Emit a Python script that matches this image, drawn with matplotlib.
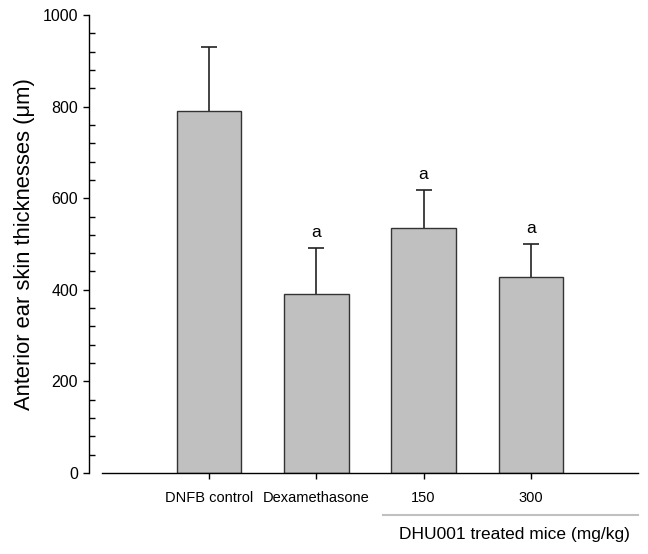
import numpy as np
import matplotlib
matplotlib.use("Agg")
import matplotlib.pyplot as plt
import matplotlib.transforms as mtransforms
from matplotlib.ticker import MultipleLocator

plt.rcParams["font.family"] = ["Liberation Sans", "DejaVu Sans"]

# ── data ─────────────────────────────────────────────────────────────────────
groups = ["DNFB control", "Dexamethasone", "150", "300"]
means = [790, 391, 536, 427]
sem = [141, 100, 82, 73]
sig_marks = ["", "a", "a", "a"]

fig = plt.figure(figsize=(6.48, 5.54), dpi=100)
ax = fig.add_axes([0.1574, 0.1462, 0.8272, 0.8267])

x = np.arange(len(groups))
ax.bar(x, means, width=0.6, color="#c0c0c0", edgecolor="#333333", linewidth=1.0, zorder=2)
# symmetric bars drawn under the columns, so only the upper half shows
ax.errorbar(x, means, yerr=sem, fmt="none", ecolor="#222222",
            elinewidth=1.2, capsize=5.5, capthick=1.2, zorder=1)

for xi, m, s, lab in zip(x, means, sem, sig_marks):
    if lab:
        ax.text(xi, m + s + 18, lab, ha="center", va="bottom", fontsize=12.5)

ax.set_xlim(-1, 4)
ax.set_ylim(0, 1000)

# spines
ax.spines["top"].set_visible(False)
ax.spines["right"].set_visible(False)
ax.spines["left"].set_position(("outward", 9.4))
ax.spines["left"].set_linewidth(1.0)
ax.spines["bottom"].set_linewidth(1.0)

# ticks
ax.set_xticks(x)
ax.set_xticklabels(groups, fontsize=10.5)
ax.tick_params(axis="x", direction="out", length=4.3, width=1.0, pad=9)
ax.yaxis.set_major_locator(MultipleLocator(200))
ax.yaxis.set_minor_locator(MultipleLocator(40))
ax.tick_params(axis="y", which="major", direction="out", length=4.3, width=1.0,
               pad=3.6, labelsize=11.5)
ax.tick_params(axis="y", which="minor", direction="in", length=4.3, width=1.0)

ax.set_ylabel("Anterior ear skin thicknesses (\u03bcm)", fontsize=15.8, labelpad=5.5)

# group bracket for DHU001 doses
trans = mtransforms.blended_transform_factory(ax.transData, ax.transAxes)
ax.plot([1.62, 4.0], [-0.0917, -0.0917], color="#c0c0c0", linewidth=1.5,
        transform=trans, clip_on=False)
ax.text(2.85, -0.135, "DHU001 treated mice (mg/kg)", ha="center", va="center",
        fontsize=12.5, transform=trans)

fig.savefig("out.png", dpi=100)
